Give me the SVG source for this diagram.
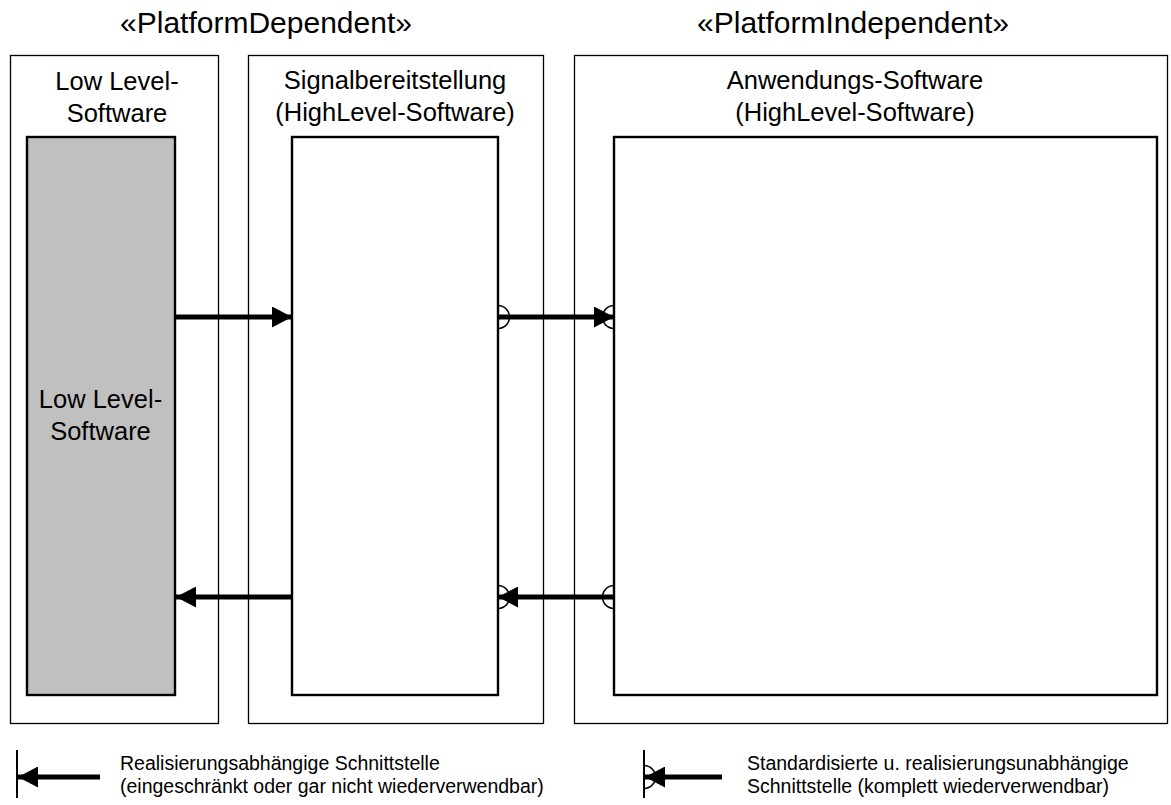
<svg xmlns="http://www.w3.org/2000/svg" width="1171" height="805" viewBox="0 0 1171 805">
  <style>
    text { font-family: "Liberation Sans", Arial, sans-serif; fill: #000; }
    .stereo { font-size: 30px; text-anchor: middle; }
    .title { font-size: 25.5px; text-anchor: middle; }
    .legend { font-size: 19.5px; }
    .outer { fill: #fff; stroke: #000; stroke-width: 1.3; }
    .inner { fill: #fff; stroke: #000; stroke-width: 2.4; }
    .ll { fill: #c0c0c0; stroke: #000; stroke-width: 2.4; }
    .flow { stroke: #000; stroke-width: 5; fill: none; }
    .port { stroke: #000; stroke-width: 1.5; fill: none; }
    .tick { stroke: #000; stroke-width: 2; }
  </style>
  <defs>
    <marker id="head" viewBox="0 0 20 21" refX="20" refY="10.5" markerWidth="20" markerHeight="21" markerUnits="userSpaceOnUse" orient="auto">
      <path d="M0,0 L20,10.5 L0,21 Z" fill="#000"/>
    </marker>
  </defs>

  <rect width="1171" height="805" fill="#fff"/>

  <text class="stereo" x="266" y="33">«PlatformDependent»</text>
  <text class="stereo" x="853" y="33">«PlatformIndependent»</text>

  <g id="lowlevel-pkg">
    <rect class="outer" x="10.5" y="55.5" width="208" height="668"/>
    <text class="title" x="117" y="90">Low Level-</text>
    <text class="title" x="117" y="122">Software</text>
  </g>
  <g id="lowlevel">
    <rect class="ll" x="27" y="137" width="148" height="558"/>
    <text class="title" x="100.5" y="408">Low Level-</text>
    <text class="title" x="100.5" y="440">Software</text>
  </g>

  <g id="signal-pkg">
    <rect class="outer" x="248.5" y="55.5" width="295" height="668"/>
    <text class="title" x="395" y="89">Signalbereitstellung</text>
    <text class="title" x="395" y="121">(HighLevel-Software)</text>
  </g>
  <g id="signal">
    <rect class="inner" x="292" y="137" width="206" height="558"/>
  </g>

  <g id="app-pkg">
    <rect class="outer" x="574.5" y="55.5" width="593" height="668"/>
    <text class="title" x="855" y="89">Anwendungs-Software</text>
    <text class="title" x="855" y="121">(HighLevel-Software)</text>
  </g>
  <g id="app">
    <rect class="inner" x="614" y="137" width="543" height="558"/>
  </g>

  <g id="connectors">
    <line class="flow" x1="175" y1="317" x2="292" y2="317" marker-end="url(#head)"/>
    <line class="flow" x1="498" y1="317" x2="614" y2="317" marker-end="url(#head)"/>
    <path class="port" d="M498,305.5 A11.5,11.5 0 0 1 498,328.5"/>
    <path class="port" d="M614,305.5 A11.5,11.5 0 0 0 614,328.5"/>

    <line class="flow" x1="614" y1="597" x2="498" y2="597" marker-end="url(#head)"/>
    <path class="port" d="M498,585.5 A11.5,11.5 0 0 1 498,608.5"/>
    <path class="port" d="M614,585.5 A11.5,11.5 0 0 0 614,608.5"/>
    <line class="flow" x1="292" y1="597" x2="176" y2="597" marker-end="url(#head)"/>
  </g>

  <g id="legend-dependent">
    <line class="tick" x1="17" y1="750" x2="17" y2="798"/>
    <line class="flow" x1="100" y1="777" x2="18" y2="777" marker-end="url(#head)"/>
    <text class="legend" x="120" y="770">Realisierungsabhängige Schnittstelle</text>
    <text class="legend" x="120" y="793">(eingeschränkt oder gar nicht wiederverwendbar)</text>
  </g>
  <g id="legend-standard">
    <line class="tick" x1="644" y1="750" x2="644" y2="798"/>
    <path class="port" d="M644,765.5 A11.5,11.5 0 0 1 644,788.5"/>
    <line class="flow" x1="722" y1="777" x2="645" y2="777" marker-end="url(#head)"/>
    <text class="legend" x="747" y="770">Standardisierte u. realisierungsunabhängige</text>
    <text class="legend" x="747" y="793">Schnittstelle (komplett wiederverwendbar)</text>
  </g>
</svg>
